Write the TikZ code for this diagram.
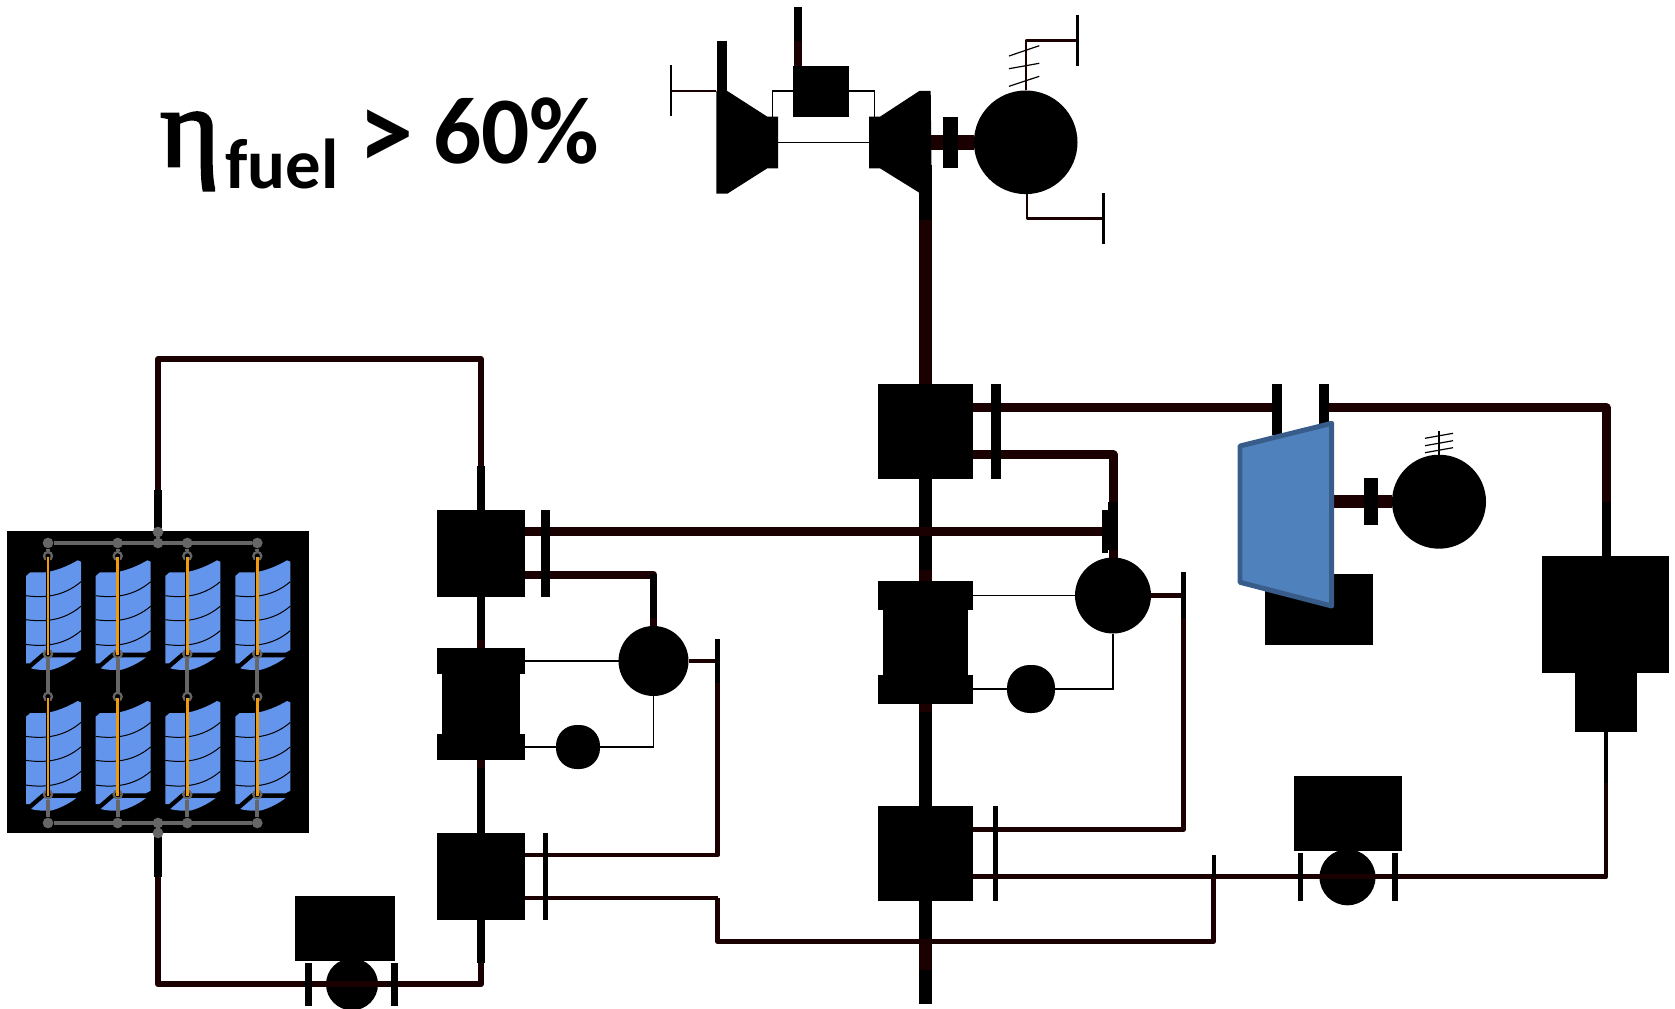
\documentclass[tikz,border=0pt]{standalone}
\usepackage{fontspec}
\setmainfont{Carlito}
\newfontfamily\etafont[FakeBold=2.5]{Liberation Serif}
\usetikzlibrary{calc}
\definecolor{pipe}{HTML}{1A0000}
\definecolor{busgrey}{HTML}{666666}
\definecolor{solarblue}{HTML}{6495ED}
\definecolor{tubeorange}{HTML}{F09A10}
\definecolor{bladefill}{HTML}{4F81BD}
\definecolor{bladeedge}{HTML}{385D8A}
\tikzset{
  blackbox/.style={fill=black,draw=none,inner sep=0pt,outer sep=0pt,rectangle},
  disc/.style={fill=black,draw=none,inner sep=0pt,outer sep=0pt,circle},
  hair/.style={draw=black,line width=0.9pt},
  pipeA/.style={draw=pipe,line width=6.75pt,line join=round},
  pipeB/.style={draw=pipe,line width=4.4pt,line join=round},
  pipeC/.style={draw=pipe,line width=3.5pt,line join=round},
  pipeD/.style={draw=pipe,line width=2.2pt,line join=round},
  thinline/.style={draw=black,line width=1pt},
  busline/.style={draw=busgrey,line width=3pt},
  busdot/.style={circle,fill=busgrey,draw=none,inner sep=0pt,minimum size=8pt},
  ringdot/.style={circle,fill=black,draw=busgrey,line width=1.7pt,inner sep=0pt,minimum size=6pt},
  titletext/.style={anchor=base west,inner sep=0pt,font=\bfseries},
}
\newcommand{\blk}[5]{\node[blackbox,minimum width={(#4-#2)*.75pt},minimum height={(#5-#3)*.75pt}] (#1) at ({(#2+#4)/2},{(#3+#5)/2}) {};}
\newcommand{\dsk}[4]{\node[disc,minimum size={2*#4*.75pt}] (#1) at (#2,#3) {};}
\newcommand{\panelat}[2]{%
  \begin{scope}[shift={(#1,#2)}]
    \fill[solarblue] (-22,20) -- (-17.7,16.3) -- (-2.7,16.3) .. controls (8,15) and (20,10) .. (29.7,4.3) -- (33,5.7) -- (33,94) -- (28,96.7) -- (-6,96.7) -- (-18.3,107.3) -- (-22,107.3) -- cycle;
    \fill[solarblue] (-17,112.3) -- (-4.3,101.3) -- (28.3,101.3) .. controls (20,108) and (8,113) .. (2.3,114) .. controls (-5,114) and (-12,114) .. cycle;
    \foreach \o/\e in {0/0,24/24.5,48.7/49}{
      \draw[black,line width=.75pt] (-22,39.7+\o) .. controls (-5,42+\o) and (15,41+\e) .. (33,25.7+\e);
    }
  \end{scope}}
\begin{document}
\begin{tikzpicture}[x=.75pt,y=-.75pt]
\useasboundingbox (0,0) rectangle (1675,1009);
% ---------- Title
\node[titletext] (eta) at (160,166) {\fontsize{85pt}{85pt}\selectfont\etafont\mdseries η};
\node[titletext] (fuel) at (225,188.3) {\fontsize{53pt}{53pt}\selectfont fuel};
\node[titletext] (gt) at (358,170) {\fontsize{83pt}{83pt}\selectfont >};
\node[titletext] (pct) at (433,163.3) {\fontsize{71.5pt}{72pt}\selectfont 60\%};
% ---------- Black equipment
\blk{hpA}{437.3}{509.7}{524.7}{596.7}
\blk{sepAt}{437.3}{647.7}{524.7}{674.3}
\blk{sepAm}{442}{674.3}{520.3}{734.3}
\blk{sepAb}{437.3}{734.3}{524.7}{760.3}
\blk{lpA}{437.3}{833}{524.7}{920}
\blk{pumpAbox}{295}{896}{395.2}{961}
\dsk{pumpA}{352}{984.3}{26}
\dsk{genA}{653.5}{661}{35}
\node[blackbox,rounded corners=15.5pt,minimum size=33pt] (auxA) at (578,747) {};
\blk{hpB}{878}{384}{972.7}{478.7}
\blk{sepBt}{878}{581}{972.7}{610}
\blk{sepBm}{882.7}{610}{968.3}{675}
\blk{sepBb}{878}{675}{972.7}{703.7}
\blk{lpB}{878}{806}{973}{900.7}
\dsk{genB}{1113}{595.5}{38}
\node[blackbox,rounded corners=17pt,minimum size=36pt] (auxB) at (1031,689) {};
\blk{pumpBbox}{1293.8}{776}{1402.3}{850.7}
\dsk{pumpB}{1347.5}{877.3}{28}
\blk{auxC}{1265}{574}{1373}{645}
\dsk{genC}{1439}{501.7}{47}
\blk{condU}{1541.5}{555.5}{1668.6}{673}
\blk{condL}{1574.6}{673}{1636.5}{731.7}
\blk{topbox}{792.7}{65.7}{849.3}{117.3}
\dsk{genT}{1025.7}{142.3}{51.8}
\blk{solar}{7}{531}{309}{833}
% ---------- Turbines at the top
\fill[black] (716.3,91) coordinate (tlA) -- (727.3,91) -- (767.3,116.7) -- (778,116.7) coordinate (tlB) -- (778,168.3) -- (767.3,168.3) -- (727.3,193.7) -- (716.3,193.7) -- cycle;
\fill[black] (930.7,91) coordinate (trA) -- (919.3,91) -- (880,116.7) -- (869,116.7) coordinate (trB) -- (869,168.3) -- (880,168.3) -- (919.3,192.7) -- (931.7,192.7) -- cycle;
% ---------- Coordinates of free ends and corners
\coordinate (leftT) at (671,91);
\coordinate (stubTL) at (721.7,40.7);
\coordinate (stubTB) at (798,7);
\coordinate (genTa) at (1026,40.3);
\coordinate (genTbarA) at (1077.3,40.3);
\coordinate (genTb) at (1027,218.3);
\coordinate (genTbarB) at (1103.3,218.3);
\coordinate (mainBot) at (925.3,1004);
\coordinate (topL) at (158,359);
\coordinate (topR) at (481,359);
\coordinate (h1) at (1606,407.7);
\coordinate (h2) at (1113,454.7);
\coordinate (h3) at (1103,531.7);
\coordinate (h4) at (653.5,574.7);
\coordinate (v1) at (1183.4,829.7);
\coordinate (v2) at (717.7,855);
\coordinate (v3) at (717.7,898);
\coordinate (v3b) at (717.7,941.5);
\coordinate (v4) at (1213.7,941.5);
\coordinate (v4b) at (1213.7,876.7);
\coordinate (v5) at (1606,876.7);
\coordinate (botL) at (158,984.3);
\coordinate (botR) at (481,984.3);
% ---------- Top group connectors
\draw[pipeD] (tlA) -- (leftT);
\draw[line width=2.2pt] ($(leftT)+(0,-25.5)$) -- ($(leftT)+(0,25.5)$);
\draw[draw=black,line width=7.5pt] (stubTL) -- (721.7,91);
\draw[pipeC,line width=5.6pt] (798,41) -- (798,65.7);
\draw[draw=black,line width=5.6pt] (stubTB) -- (798,41);
\draw[thinline] (772.3,116.7) -- (772.3,91) -- (topbox.west |- 0,91);
\draw[thinline] (topbox.east |- 0,91) -- (874.7,91) -- (874.7,116.7);
\draw[thinline] (778,142.3) -- (869,142.3);
\draw[pipe,line width=11.2pt] (931,142.3) -- (genT.west);
\draw[pipe,line width=9.4pt] (925.3,218) -- (hpB.north -| 925.3,0);
\draw[black,line width=9.4pt] (925.3,165) -- (925.3,220);
\blk{cplT}{943}{117}{958.3}{168}
\draw[pipeD] (genT.north -| genTa) -- (genTa) -- (genTbarA);
\draw[line width=2.2pt] ($(genTbarA)+(0,-25.5)$) -- ($(genTbarA)+(0,25.5)$);
\draw[hair] (1009,56) -- (1039.3,45.7);
\draw[hair] (1009,68.7) -- (1039.3,63.3);
\draw[hair] (1009,86.3) -- (1039.3,76.3);
\draw[pipeD] (genTb |- genT.south) -- (genTb) -- (genTbarB);
\draw[line width=2.2pt] ($(genTbarB)+(0,-25)$) -- ($(genTbarB)+(0,25.7)$);
% ---------- Main vertical B
\draw[black,line width=9.4pt] (hpB.south -| 925.3,0) -- (sepBt.north -| 925.3,0);
\draw[pipe,line width=9.4pt] (925.3,570) -- (sepBt.north -| 925.3,0);
\draw[black,line width=9.4pt] (sepBb.south -| 925.3,0) -- (lpB.north -| 925.3,0);
\draw[pipe,line width=9.4pt] (sepBb.south -| 925.3,0) -- (925.3,712);
\draw[black,line width=9.4pt] (lpB.south -| 925.3,0) -- (mainBot);
\draw[pipe,line width=9.4pt] (925.3,943) -- (925.3,970);
% ---------- HP B branches
\draw[pipeA] (hpB.east |- h1) -- (1272.3,407.7);
\draw[pipeA] (1329,407.7) -- (h1) -- (h1 |- condU.north);
\draw[black,line width=6.75pt] (1606,502) -- (1606,555.5);
\draw[pipeA] (hpB.east |- h2) -- (h2) -- (genB.north);
\draw[pipeA] (hpA.east |- h3) -- (h3);
\blk{barB}{991.2}{384}{1000.7}{478.7}
\blk{barC}{1108.3}{501.7}{1117.7}{550}
\blk{barD}{1101.7}{510}{1108.3}{553}
\draw[thinline] (sepBt.east |- genB.west) -- (genB.west);
\draw[thinline] (sepBb.east |- auxB.west) -- (auxB.west);
\draw[thinline] (auxB.east) -- (auxB.east -| genB.south) -- (genB.south);
\draw[pipeB] (genB.east) -- (genB.east -| v1);
\draw[pipeC] (v1 |- genB.east) -- (v1) -- (lpB.east |- v1);
\draw[black,line width=3.8pt] (1183.4,572) -- (1183.4,618);
\blk{barE}{993}{806}{997.6}{900.7}
% ---------- Lower B lines
\draw[pipeC] (lpB.east |- v5) -- (v5) -- (condL.south -| v5);
\draw[black,line width=3.5pt] (1606,731.7) -- (1606,783);
\draw[line width=2.8pt] (1213.7,855) -- (1213.7,898);
\draw[pipeC] (v3) -- (v3b) -- (v4) -- (v4b);
\blk{barF}{1297.5}{853}{1303}{900.7}
\blk{barG}{1392}{853}{1397.5}{900.7}
% ---------- Group A
\draw[black,line width=5.3pt] (hpA.south -| 481,0) -- (481,640);
\draw[pipe,line width=5.3pt] (481,640) -- (sepAt.north -| 481,0);
\draw[pipe,line width=5.3pt] (sepAb.south -| 481,0) -- (481,768);
\draw[black,line width=5.3pt] (481,768) -- (lpA.north -| 481,0);
\draw[pipeC,line width=4.2pt] (solar.north -| topL) -- (topL) -- (topR) -- (hpA.north -| topR);
\draw[black,line width=5.3pt] (158,490) -- (158,531);
\draw[black,line width=5.3pt] (481,466) -- (481,509.7);
\draw[pipeB,line width=5.8pt] (hpA.east |- h4) -- (h4) -- (genA.north);
\draw[black,line width=5.8pt] (653.5,574) -- (653.5,618);
\blk{barA}{541}{509.7}{550}{596.7}
\draw[thinline] (sepAt.east |- genA.west) -- (genA.west);
\draw[thinline] (sepAb.east |- auxA.west) -- (auxA.west);
\draw[thinline] (auxA.east) -- (auxA.east -| genA.south) -- (genA.south);
\draw[pipeB,line width=3.6pt] (genA.east) -- (genA.east -| v2);
\draw[pipeC] (v2 |- genA.east) -- (v2) -- (lpA.east |- v2);
\draw[black,line width=3.8pt] (717.7,639) -- (717.7,682.7);
\draw[pipeC] (lpA.east |- v3) -- (v3);
\blk{barH}{543.4}{833}{547.8}{920}
\draw[pipeB] (solar.south -| botL) -- (botL) -- (botR) -- (lpA.south -| botR);
\draw[black,line width=5.3pt] (158,833) -- (158,876.7);
\draw[black,line width=5.3pt] (lpA.south -| 481,0) -- (481,963);
\blk{barI}{305.2}{963}{312.2}{1006}
\blk{barJ}{391.3}{963}{398.3}{1006}
% ---------- Right generator group
\draw[pipe,line width=9.7pt] (1332,501.7) -- (genC.west);
\blk{cplC}{1364}{477.7}{1378}{525.3}
\draw[hair] (genC.north) -- (1439,431);
\draw[hair] (1425,438.3) -- (1453,433.3);
\draw[hair] (1425,445.7) -- (1453,440.7);
\draw[hair] (1425,452.7) -- (1453,447.7);
\blk{barK}{1272.3}{384}{1281.7}{435}
\blk{barL}{1319}{384}{1329}{428}
\draw[bladeedge,fill=bladefill,line width=3.7pt,line join=round] (1240,446) coordinate (bladeA) -- (1331.7,423.3) -- (1331.7,606) -- (1240,582.3) -- cycle;
% ---------- Solar field
\foreach \c/\x in {a/48,b/117.7,c/187.3,d/257.3}{
  \panelat{\x}{556}
  \panelat{\x}{696.7}
  \node[busdot] (top\c) at (\x,543) {};
  \node[busdot] (bot\c) at (\x,823) {};
  \node[ringdot] (ra\c) at (\x,556) {};
  \node[ringdot] (rb\c) at (\x,654) {};
  \node[ringdot] (rc\c) at (\x,696.7) {};
  \node[ringdot] (rd\c) at (\x,794.5) {};
  \draw[busline] (top\c) -- (ra\c);
  \draw[busline] (rb\c) -- (rc\c);
  \draw[busline] (rd\c) -- (bot\c);
  \fill[black] ($(ra\c)+(-2.1,0)$) rectangle ($(rb\c)+(2.1,2)$);
  \fill[black] ($(rc\c)+(-2.1,0)$) rectangle ($(rd\c)+(2.1,2)$);
  \fill[tubeorange] ($(ra\c)+(-1.3,1)$) rectangle ($(rb\c)+(1.3,1)$);
  \fill[tubeorange] ($(rc\c)+(-1.3,1)$) rectangle ($(rd\c)+(1.3,1)$);
}
\draw[busline] (topa) -- (topd);
\draw[busline] (bota) -- (botd);
\node[busdot] (busT) at (158,543) {};
\node[busdot] (outT) at (158,532) {};
\node[busdot] (busB) at (158,823) {};
\node[busdot] (outB) at (158,833) {};
\draw[busline] (outT) -- (busT);
\draw[busline] (busB) -- (outB);
\end{tikzpicture}
\end{document}
